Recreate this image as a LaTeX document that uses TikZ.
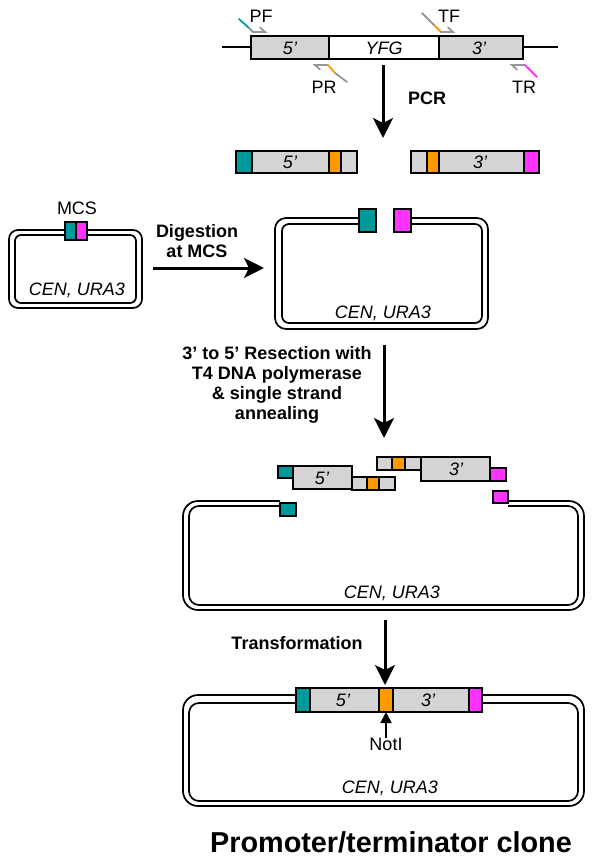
\documentclass[tikz,border=0pt]{standalone}
\usepackage{fontspec}
\setmainfont{Liberation Sans}
\usetikzlibrary{arrows.meta}
\definecolor{tealc}{RGB}{0,153,153}
\definecolor{magc}{RGB}{255,51,255}
\definecolor{orngc}{RGB}{255,153,0}
\definecolor{lgray}{RGB}{212,212,212}
\definecolor{pgray}{RGB}{150,150,150}
\begin{document}
\begin{tikzpicture}[x=1pt,y=-1pt,
  seg/.style={draw=black, line width=1.3pt},
  dna/.style={line width=1.7pt},
  dnaout/.style={dna, rounded corners=15pt},
  dnain/.style={dna, rounded corners=10pt},
  lbl/.style={font=\fontsize{18}{20}\selectfont, inner sep=0},
  ilbl/.style={font=\fontsize{18}{20}\selectfont\itshape, inner sep=0},
  blbl/.style={font=\fontsize{18}{20}\selectfont\bfseries, inner sep=0, align=center},
  bigarrow/.style={line width=3pt, -{Stealth[length=20pt,width=20pt,inset=5pt]}},
  primer/.style={line width=1.8pt, pgray, line cap=round},
  tip/.style={line width=1.8pt, line cap=round}
]
\useasboundingbox (0,0) rectangle (595,867);
% ---------- genomic locus ----------
\coordinate (gl) at (222,47); \coordinate (gla) at (251,47);
\coordinate (gr) at (523,47); \coordinate (gra) at (558,47);
\draw[line width=2.4pt] (gl) -- (gla);
\draw[line width=2.4pt] (gr) -- (gra);
\draw[seg, fill=lgray] (251,36) rectangle (329,59);
\draw[seg, fill=white] (329,36) rectangle (439,59);
\draw[seg, fill=lgray] (439,36) rectangle (523,59);
\node[ilbl] (g5) at (290,48) {5’};
\node[ilbl] (gy) at (384,48) {YFG};
\node[ilbl] (g3) at (479,48) {3’};
% primers
\draw[tip, tealc] (239,19) -- (249,28);
\draw[primer] (249,28) -- (253,32) -- (265,32) -- (260,27.5);
\node[lbl] (pf) at (261,16) {PF};
\draw[primer] (422,13) -- (435,26);
\draw[tip, orngc] (435,26) -- (441,32);
\draw[primer] (441,32) -- (453,32) -- (448,27.5);
\node[lbl] (tf) at (449,16) {TF};
\draw[primer] (320,69.5) -- (315,65) -- (328,65);
\draw[tip, orngc] (328,65) -- (335,73);
\draw[primer] (335,73) -- (347,82);
\node[lbl] (pr) at (324,87) {PR};
\draw[primer] (517,69.5) -- (512,65) -- (525,65);
\draw[tip, magc] (525,65) -- (537,77);
\node[lbl] (tr) at (524,87) {TR};
% PCR arrow
\coordinate (pcr1) at (383,65); \coordinate (pcr2) at (383,138);
\draw[bigarrow] (pcr1) -- (pcr2);
\node[blbl] (pcr) at (427,98) {PCR};
% ---------- PCR products ----------
\draw[seg, fill=lgray] (236,151) rectangle (357,173);
\draw[seg, fill=tealc] (236,151) rectangle (252,173);
\draw[seg, fill=orngc] (329,151) rectangle (341,173);
\node[ilbl] (f5) at (290,162) {5’};
\draw[seg, fill=lgray] (411,151) rectangle (539,173);
\draw[seg, fill=orngc] (427,151) rectangle (439,173);
\draw[seg, fill=magc] (524,151) rectangle (539,173);
\node[ilbl] (f3) at (480,162) {3’};
% ---------- empty vector ----------
\draw[dna, rounded corners=9pt] (9,230) rectangle (142,308);
\draw[dna, rounded corners=6pt] (15,235) rectangle (136,303);
\draw[seg, fill=tealc] (65,222) rectangle (76,240);
\draw[seg, fill=magc] (76,222) rectangle (87,240);
\node[lbl] (mcs) at (77,208) {MCS};
\node[ilbl] (v1) at (77,290) {CEN, URA3};
% digestion arrow
\coordinate (d1) at (153,268); \coordinate (d2) at (264,268);
\draw[bigarrow] (d1) -- (d2);
\node[blbl] (dig) at (197,241) {Digestion\\at MCS};
% ---------- linearised vector ----------
\draw[dna, rounded corners=11pt] (394,218) -- (488,218) -- (488,329) -- (275,329) -- (275,218) -- (376,218);
\draw[dna, rounded corners=7pt] (394,224) -- (482,224) -- (482,323) -- (282,323) -- (282,224) -- (376,224);
\draw[seg, fill=tealc] (359,209) rectangle (376,232);
\draw[seg, fill=magc] (394,209) rectangle (411,232);
\node[ilbl] (v2) at (383,313) {CEN, URA3};
% resection arrow
\coordinate (r1) at (384,345); \coordinate (r2) at (384,438);
\draw[bigarrow] (r1) -- (r2);
\node[blbl] (res) at (277,385) {3’ to 5’ Resection with\\T4 DNA polymerase\\\& single strand\\annealing};
% ---------- annealing intermediate ----------
\draw[seg, fill=lgray] (352,477) rectangle (395,490);
\draw[seg, fill=orngc] (367,477) rectangle (379,490);
\draw[seg, fill=tealc] (278,466) rectangle (293,478);
\draw[seg, fill=lgray] (293,466) rectangle (352,489);
\node[ilbl] (a5) at (322,478) {5’};
\draw[seg, fill=lgray] (377,457) rectangle (421,470);
\draw[seg, fill=orngc] (392,457) rectangle (405,470);
\draw[seg, fill=lgray] (421,457) rectangle (490,481);
\draw[seg, fill=magc] (490,468) rectangle (506,481);
\node[ilbl] (a3) at (456,469) {3’};
% plasmid with overhangs
\draw[dnaout] (508,501) -- (584,501) -- (584,610) -- (183,610) -- (183,501) -- (280,501);
\draw[dnain] (508,506) -- (578,506) -- (578,605) -- (189,605) -- (189,506) -- (280,506);
\draw[seg, fill=tealc] (280,503) rectangle (296,516);
\draw[seg, fill=magc] (493,491) rectangle (508,503);
\node[ilbl] (v3) at (392,593) {CEN, URA3};
% transformation arrow
\coordinate (t1) at (385,620); \coordinate (t2) at (385,685);
\draw[bigarrow] (t1) -- (t2);
\node[blbl] (trf) at (297,643) {Transformation};
% ---------- final clone ----------
\draw[dnaout] (183,695) rectangle (584,806);
\draw[dnain] (189,703) rectangle (578,801);
\draw[seg, fill=lgray] (296,688) rectangle (482,712);
\draw[seg, fill=tealc] (296,688) rectangle (310,712);
\draw[seg, fill=orngc] (379,688) rectangle (393,712);
\draw[seg, fill=magc] (469,688) rectangle (482,712);
\node[ilbl] (c5) at (343,700) {5’};
\node[ilbl] (c3) at (428,700) {3’};
\node[lbl] (noti) at (386,744) {NotI};
\coordinate (nb) at (386,712);
\draw[line width=1.8pt, -{Triangle[length=11pt,width=11pt]}] (noti.north) -- (nb);
\node[ilbl] (v4) at (390,788) {CEN, URA3};
% title
\node[font=\fontsize{28.8}{30}\selectfont\bfseries, inner sep=0] (title) at (391,842) {Promoter/terminator clone};
\end{tikzpicture}
\end{document}
